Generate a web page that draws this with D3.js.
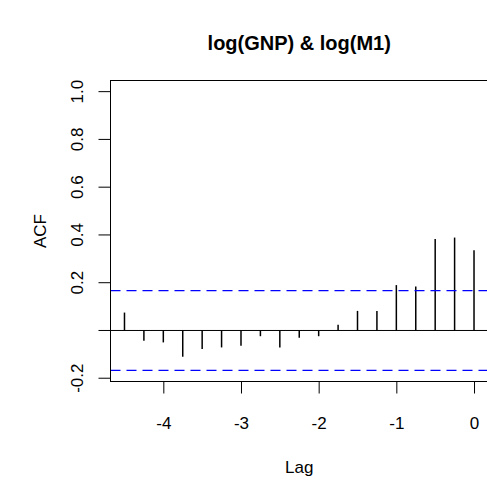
<!DOCTYPE html>
<html>
<head>
<meta charset="utf-8">
<script src="https://cdn.jsdelivr.net/npm/d3@7"></script>
<style>
  body { margin: 0; background: #fff; }
  svg { display: block; font-family: "Liberation Sans", Arial, sans-serif; }
</style>
</head>
<body>
<svg id="chart" width="487" height="487"></svg>
<script>
// cross-correlation values, lags in years (quarterly)
const lags = [-4.5, -4.25, -4, -3.75, -3.5, -3.25, -3, -2.75, -2.5, -2.25,
              -2, -1.75, -1.5, -1.25, -1, -0.75, -0.5, -0.25, 0];
const acf = [0.075, -0.043, -0.050, -0.110, -0.078, -0.071, -0.064, -0.024, -0.071, -0.031,
             -0.024, 0.024, 0.082, 0.082, 0.190, 0.184, 0.383, 0.389, 0.336];
const ci = 0.167;
const xTicks = [-4, -3, -2, -1, 0];
const yTicks = [-0.2, 0, 0.2, 0.4, 0.6, 0.8, 1.0];

const svg = d3.select("#chart");
const pl = 110.5, pr = 488, pt = 80.5, pb = 381.5;

// R-style 4% expansion of the data ranges
const xr = [-4.5, 0], yr = [-ci, 1];
const xe = (xr[1] - xr[0]) * 0.04, ye = (yr[1] - yr[0]) * 0.04;
const x = d3.scaleLinear().domain([xr[0] - xe, xr[1] + xe]).range([pl, pr]);
const y = d3.scaleLinear().domain([yr[0] - ye, yr[1] + ye]).range([pb, pt]);

// title
svg.append("text")
  .attr("x", (pl + pr) / 2).attr("y", 50)
  .attr("text-anchor", "middle")
  .style("font-size", "20px").style("font-weight", "bold")
  .text("log(GNP) & log(M1)");

// zero line
svg.append("line")
  .attr("x1", pl).attr("x2", pr)
  .attr("y1", y(0)).attr("y2", y(0))
  .attr("stroke", "#000").attr("stroke-width", 1);

// bars
svg.append("g").selectAll("line")
  .data(lags)
  .enter().append("line")
  .attr("x1", d => x(d)).attr("x2", d => x(d))
  .attr("y1", y(0))
  .attr("y2", (d, i) => y(acf[i]))
  .attr("stroke", "#000").attr("stroke-width", 1.5);

// confidence bounds
svg.append("g").selectAll("line")
  .data([ci, -ci])
  .enter().append("line")
  .attr("x1", pl).attr("x2", pr)
  .attr("y1", d => y(d)).attr("y2", d => y(d))
  .attr("stroke", "#0000ff").attr("stroke-width", 1.3)
  .attr("stroke-dasharray", "10,6");

// box
svg.append("rect")
  .attr("x", pl).attr("y", pt)
  .attr("width", pr - pl).attr("height", pb - pt)
  .attr("fill", "none").attr("stroke", "#000").attr("stroke-width", 1);

// x axis
const xAxis = d3.axisBottom(x).tickValues(xTicks).tickSize(12).tickPadding(23)
  .tickFormat(d => String(d));
const gx = svg.append("g").attr("transform", `translate(0,${pb})`).call(xAxis);
gx.select(".domain").remove();
gx.selectAll("text").style("font-size", "17px").attr("fill", "#000");
gx.selectAll("line").attr("stroke-width", 1);

// y axis
const yAxis = d3.axisLeft(y).tickValues(yTicks).tickSize(12)
  .tickFormat(d => d === 0 ? "" : d.toFixed(1));
const gy = svg.append("g").attr("transform", `translate(${pl},0)`).call(yAxis);
gy.select(".domain").remove();
gy.selectAll("line").attr("stroke-width", 1);
gy.selectAll(".tick").attr("transform", null);
gy.selectAll(".tick line").attr("y1", d => y(d)).attr("y2", d => y(d));
gy.selectAll(".tick text")
  .attr("x", null).attr("y", null).attr("dy", "0.35em")
  .attr("text-anchor", "middle")
  .attr("transform", d => `translate(-33,${y(d)}) rotate(-90)`)
  .style("font-size", "17px").attr("fill", "#000");

// axis titles
svg.append("text")
  .attr("x", (pl + pr) / 2).attr("y", 473)
  .attr("text-anchor", "middle").style("font-size", "17px")
  .text("Lag");
svg.append("text")
  .attr("transform", `translate(46,${(pt + pb) / 2}) rotate(-90)`)
  .attr("text-anchor", "middle").style("font-size", "17px")
  .text("ACF");
</script>
</body>
</html>
